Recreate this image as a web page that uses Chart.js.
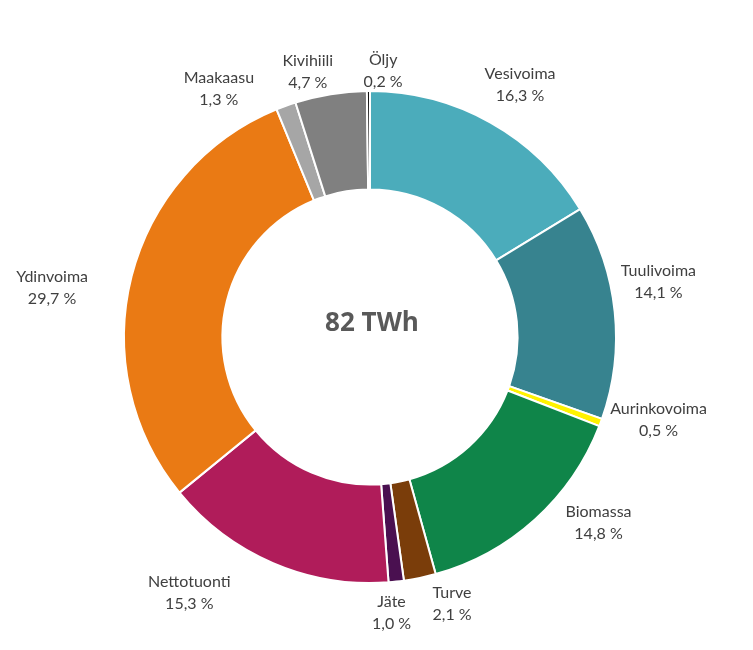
<!DOCTYPE html>
<html>
<head>
<meta charset="utf-8">
<script src="https://cdn.jsdelivr.net/npm/chart.js@4"></script>
<style>
    html, body { margin: 0; padding: 0; background: #fff; }
    #wrap { width: 753px; height: 650px; }
</style>
</head>
<body>
<div id="wrap"><canvas id="chart"></canvas></div>
<script>
const categories = ["Vesivoima", "Tuulivoima", "Aurinkovoima", "Biomassa", "Turve", "Jäte",
    "Nettotuonti", "Ydinvoima", "Maakaasu", "Kivihiili", "Öljy"];
const shares = [16.3, 14.1, 0.5, 14.8, 2.1, 1.0, 15.3, 29.7, 1.3, 4.7, 0.2];
const totalLabel = "82 TWh";

const colors = ["#4bacbb", "#37838f", "#fff200", "#0f8549", "#7a3d0a", "#4a1050",
    "#b01c5a", "#ea7a14", "#a6a6a6", "#808080", "#111111"];

// small nudges so the labels sit where the original put them
const labelNudge = [[5, 6], [-6, -25], [11, -20], [30, -34], [22, -23], [-10, -18],
    [-64, -16], [-31, 24], [-50, 30], [-15, 27], [15, 30]];

const fmt = v => v.toFixed(1).replace(".", ",") + " %";

const labelPlugin = {
    id: "outsideLabels",
    afterDraw(chart) {
        const ctx = chart.ctx;
        const arcs = chart.getDatasetMeta(0).data;
        ctx.save();
        ctx.fillStyle = "#404040";
        ctx.font = "16px Lato";
        ctx.textAlign = "center";
        ctx.textBaseline = "middle";
        arcs.forEach((arc, i) => {
            const mid = (arc.startAngle + arc.endAngle) / 2;
            const r = arc.outerRadius + 50;
            const x = arc.x + Math.cos(mid) * r + labelNudge[i][0];
            const y = arc.y + Math.sin(mid) * r + labelNudge[i][1];
            ctx.fillText(categories[i], x, y - 11);
            ctx.fillText(fmt(shares[i]), x, y + 11);
        });
        // total in the hole
        const a = arcs[0];
        ctx.fillStyle = "#595959";
        ctx.font = "bold 26px 'Open Sans'";
        ctx.fillText(totalLabel, a.x + 2, a.y - 13);
        ctx.restore();
    }
};

new Chart(document.getElementById("chart"), {
    type: "doughnut",
    data: {
        labels: categories,
        datasets: [{
            data: shares,
            backgroundColor: colors,
            borderColor: "#ffffff",
            borderWidth: 2
        }]
    },
    options: {
        responsive: true,
        maintainAspectRatio: false,
        animation: false,
        cutout: "60%",
        layout: { padding: { left: 123, right: 136, top: 90, bottom: 66 } },
        plugins: {
            legend: { display: false },
            tooltip: { enabled: false }
        }
    },
    plugins: [labelPlugin]
});
</script>
</body>
</html>
